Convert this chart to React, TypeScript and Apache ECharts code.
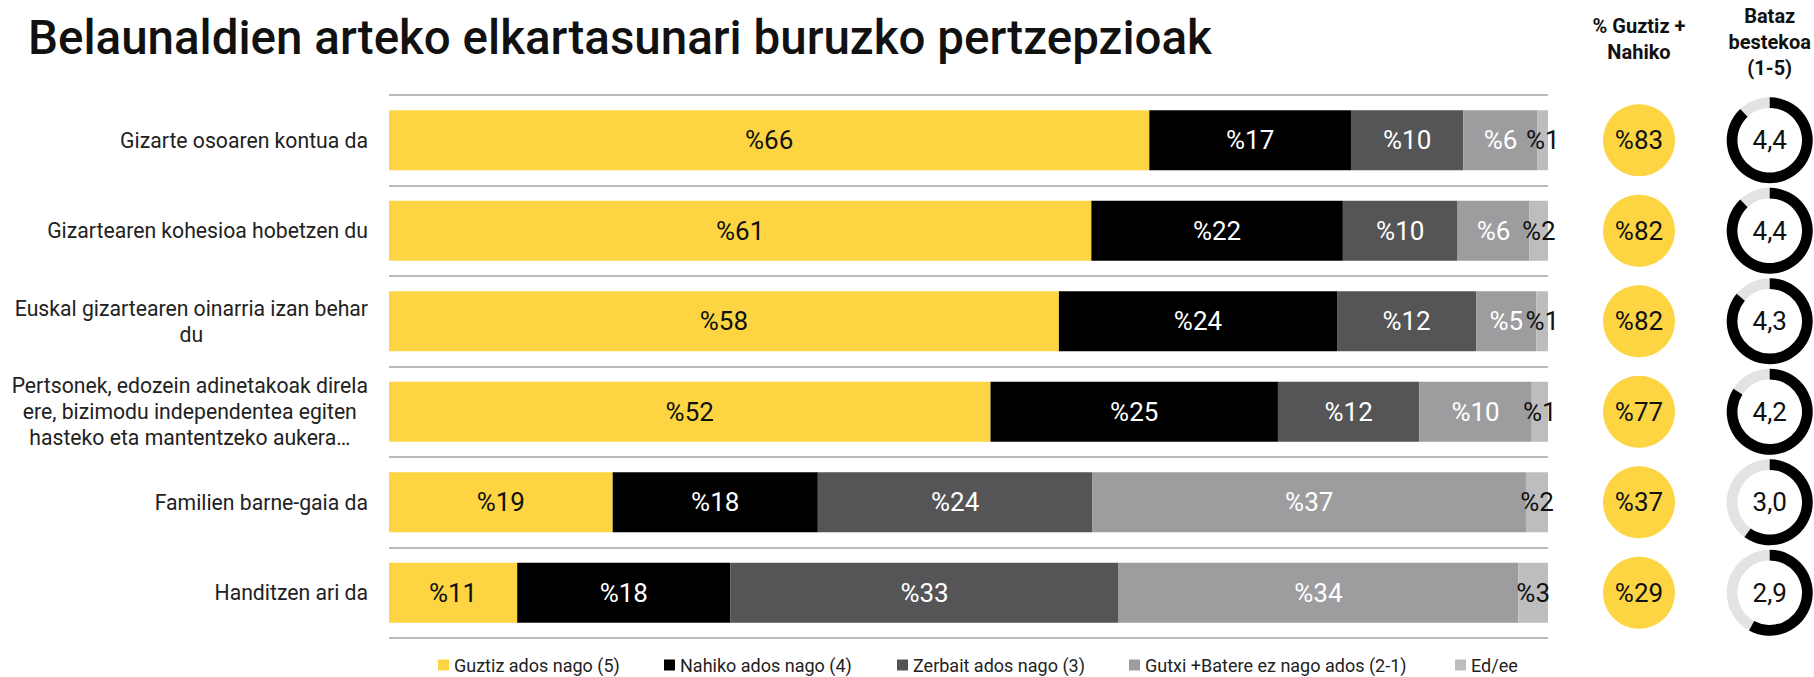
import React, { useEffect, useRef } from "react";
import * as echarts from "echarts";

const categories = [
  "Gizarte osoaren kontua da",
  "Gizartearen kohesioa hobetzen du",
  "Euskal gizartearen oinarria izan behar\ndu",
  "Pertsonek, edozein adinetakoak direla\nere, bizimodu independentea egiten\nhasteko eta mantentzeko aukera…",
  "Familien barne-gaia da",
  "Handitzen ari da",
];

const seriesNames = [
  "Guztiz ados nago (5)",
  "Nahiko ados nago (4)",
  "Zerbait ados nago (3)",
  "Gutxi +Batere ez nago ados (2-1)",
  "Ed/ee",
];

const guztiz = [65.6, 60.6, 57.8, 51.9, 19.3, 11.06];
const nahiko = [17.4, 21.7, 24.0, 24.8, 17.7, 18.4];
const zerbait = [9.7, 9.9, 12.0, 12.2, 23.7, 33.49];
const gutxi = [6.4, 6.2, 5.2, 9.7, 37.4, 34.49];
const edee = [0.9, 1.6, 1.0, 1.4, 1.9, 2.56];

const guztizNahiko = [83, 82, 82, 77, 37, 29];
const batazBestekoa = [4.4, 4.4, 4.3, 4.2, 3.0, 2.9];

const summaryColumns = ["% Guztiz +\nNahiko", "Bataz\nbestekoa\n(1-5)"];

const colors = ["#FDD542", "#000000", "#555557", "#9D9D9F", "#BDBDBF"];
const labelColors = ["#111111", "#ffffff", "#ffffff", "#ffffff", "#111111"];
const legendLefts = [433, 659, 892, 1124, 1450];
const FONT = "Roboto";

export default function App() {
  const ref = useRef<HTMLDivElement>(null);

  useEffect(() => {
    if (!ref.current) return;
    const chart = echarts.init(ref.current, null, { renderer: "svg" });
    const values = [guztiz, nahiko, zerbait, gutxi, edee];

    const barSeries = values.map((arr, si) => ({
      name: seriesNames[si],
      type: "bar",
      stack: "total",
      xAxisIndex: 0,
      yAxisIndex: 0,
      barWidth: 60,
      itemStyle: { color: colors[si] },
      label: {
        show: true,
        position: "inside",
        formatter: (p: any) => "%" + Math.round(p.value),
        fontSize: 26,
        fontFamily: FONT,
        color: labelColors[si],
      },
      data: arr,
    }));

    const legends = seriesNames.map((n, i) => ({
      data: [n],
      left: legendLefts[i],
      top: 651,
      icon: "rect",
      itemWidth: 11,
      itemHeight: 11,
      textStyle: { fontSize: 18, color: "#222", fontFamily: FONT },
    }));

    const option: any = {
      animation: false,
      textStyle: { fontFamily: FONT },
      title: {
        text: "Belaunaldien arteko elkartasunari buruzko pertzepzioak",
        left: 23,
        top: 9,
        textStyle: { fontSize: 47.5, fontWeight: 500, fontFamily: FONT, color: "#111" },
      },
      legend: legends,
      grid: [
        { left: 389, width: 1159, top: 95, height: 543 },
        { left: 1639, width: 132, top: 95, height: 543 },
      ],
      xAxis: [
        {
          type: "value",
          gridIndex: 0,
          min: 0,
          max: 100,
          show: false,
        },
        {
          type: "category",
          gridIndex: 1,
          position: "top",
          boundaryGap: false,
          data: summaryColumns,
          axisLine: { show: false },
          axisTick: { show: false },
          splitLine: { show: false },
          axisLabel: {
            interval: 0,
            fontSize: 20,
            fontWeight: "bold",
            lineHeight: 26,
            color: "#111",
            fontFamily: FONT,
            verticalAlign: "middle",
            margin: 53,
            formatter: (v: string, idx: number) => {
              const body = v
                .split("\n")
                .map((l) => "{h|" + l + "}")
                .join("\n");
              return idx === 0 ? body + "\n{sp| }" : body;
            },
            rich: {
              h: { fontSize: 20, fontWeight: "bold", lineHeight: 26, color: "#111", fontFamily: FONT, align: "center" },
              sp: { fontSize: 4, lineHeight: 6 },
            },
          },
        },
      ],
      yAxis: [
        {
          type: "category",
          gridIndex: 0,
          inverse: true,
          data: categories,
          axisLine: { show: false },
          axisTick: { show: false },
          splitLine: {
            show: true,
            interval: 0,
            lineStyle: { color: "#a3a3a3", width: 1.5 },
          },
          axisLabel: {
            interval: 0,
            margin: 21,
            align: "right",
            color: "#222",
            fontSize: 21.2,
            lineHeight: 26,
            fontFamily: FONT,
            formatter: (v: string) =>
              v
                .split("\n")
                .map((l) => "{c|" + l + "}")
                .join("\n"),
            rich: {
              c: { align: "center", fontSize: 21.2, lineHeight: 26, color: "#222", fontFamily: FONT },
            },
          },
        },
        {
          type: "category",
          gridIndex: 1,
          inverse: true,
          data: categories,
          show: false,
        },
      ],
      series: [
        ...barSeries,
        {
          type: "scatter",
          xAxisIndex: 1,
          yAxisIndex: 1,
          symbol: "circle",
          symbolSize: 72,
          itemStyle: { color: colors[0], opacity: 1 },
          label: {
            show: true,
            position: "inside",
            formatter: (p: any) => "%" + p.value[2],
            fontSize: 26,
            color: "#111",
            fontFamily: FONT,
          },
          data: guztizNahiko.map((v, i) => [summaryColumns[0], categories[i], v]),
        },
        {
          type: "custom",
          xAxisIndex: 1,
          yAxisIndex: 1,
          clip: false,
          renderItem: (params: any, api: any) => {
            const c = api.coord([api.value(0), api.value(1)]);
            const v = api.value(2) as number;
            const r0 = 32.3;
            const r = 43;
            return {
              type: "group",
              children: [
                {
                  type: "sector",
                  shape: { cx: c[0], cy: c[1], r0, r, startAngle: 0, endAngle: Math.PI * 2 },
                  style: { fill: "#e3e3e3" },
                },
                {
                  type: "sector",
                  shape: {
                    cx: c[0],
                    cy: c[1],
                    r0,
                    r,
                    startAngle: -Math.PI / 2,
                    endAngle: -Math.PI / 2 + (Math.PI * 2 * v) / 5,
                    clockwise: true,
                  },
                  style: { fill: "#000" },
                },
                {
                  type: "text",
                  x: c[0],
                  y: c[1],
                  style: {
                    text: v.toFixed(1).replace(".", ","),
                    fontSize: 26,
                    fontFamily: FONT,
                    fill: "#111",
                    align: "center",
                    verticalAlign: "middle",
                  },
                },
              ],
            };
          },
          data: batazBestekoa.map((v, i) => [summaryColumns[1], categories[i], v]),
        },
      ],
    };

    chart.setOption(option);
    return () => chart.dispose();
  }, []);

  return (
    <div
      ref={ref}
      style={{ position: "absolute", left: 0, top: 0, width: 1814, height: 677 }}
    />
  );
}
